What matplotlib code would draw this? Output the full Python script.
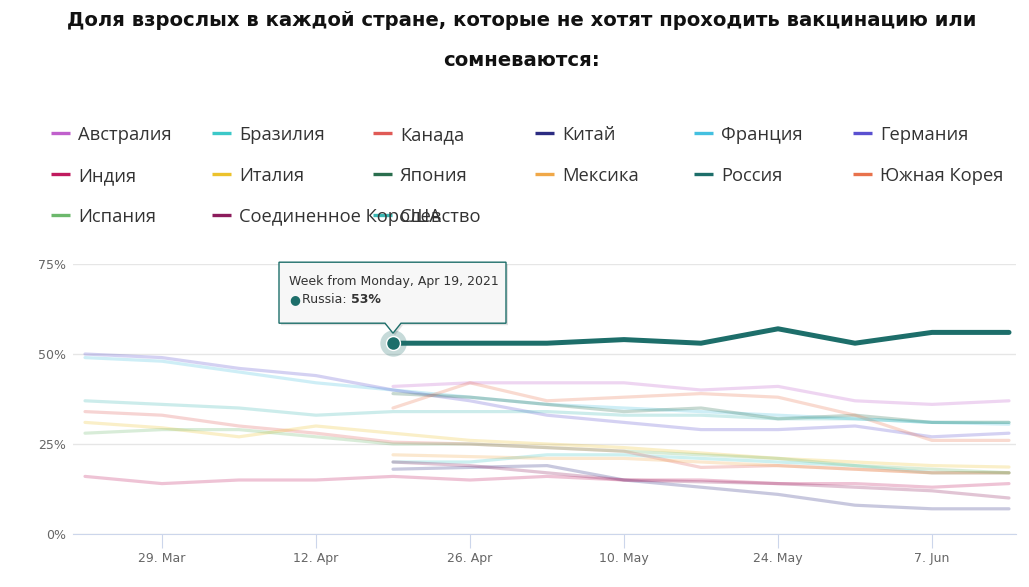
import numpy as np
import pandas as pd
import matplotlib
matplotlib.use("Agg")
import matplotlib.pyplot as plt
import matplotlib.dates as mdates
from matplotlib.patches import Polygon
from matplotlib.transforms import IdentityTransform
from matplotlib.lines import Line2D

nan = np.nan
weeks = pd.date_range("2021-03-22", periods=13, freq="7D")

countries = ["Австралия", "Бразилия", "Канада", "Китай", "Франция", "Германия",
             "Индия", "Италия", "Япония", "Мексика", "Россия", "Южная Корея",
             "Испания", "Соединенное Королевство", "США"]
colors = ["#c060cc", "#3cc8c8", "#e05a56", "#2c2c82", "#44c0e0", "#5a50d0",
          "#c01a5e", "#ecc22c", "#2a6e4e", "#f0a848", "#1d6e6a", "#e8724c",
          "#6cb86c", "#8c1c5c", "#3cb8b4"]

australia = [nan, nan, nan, nan, 41, 42, 42, 42, 40, 41, 37, 36, 37]
brazil    = [nan, nan, nan, nan, 20, 20, 22, 22, 21, 20, 19, 17, 17]
canada    = [34, 33, 30, 28, 25.5, 25, 24, 23, 18.5, 19, 18, 17, 17]
china     = [nan, nan, nan, nan, 18, 18.5, 19, 15, 13, 11, 8, 7, 7]
france    = [49, 48, 45, 42, 40, 38, 36, 35, 34, 33, 32, 31, 30.5]
germany   = [50, 49, 46, 44, 40, 37, 33, 31, 29, 29, 30, 27, 28]
india     = [16, 14, 15, 15, 16, 15, 16, 15, 15, 14, 14, 13, 14]
italy     = [31, 29.5, 27, 30, 28, 26, 25, 24, 22.5, 21, 20, 19, 18.6]
japan     = [nan, nan, nan, nan, 39, 38, 36, 34, 35, 32, 33, 31, 31]
mexico    = [nan, nan, nan, nan, 22, 21.5, 21, 21, 20, 19, 18, 17, 17]
russia    = [nan, nan, nan, nan, 53, 53, 53, 54, 53, 57, 53, 56, 56]
skorea    = [nan, nan, nan, nan, 35, 42, 37, 38, 39, 38, 33, 26, 26]
spain     = [28, 29, 29, 27, 25, 25, 24, 23, 22, 21, 19, 18, 17]
uk        = [nan, nan, nan, nan, 20, 19, 17, 15, 14.5, 14, 13, 12, 10]
usa       = [37, 36, 35, 33, 34, 34, 34, 33, 33, 32, 32, 31, 31]

series = [australia, brazil, canada, china, france, germany, india, italy,
          japan, mexico, russia, skorea, spain, uk, usa]

title = "Доля взрослых в каждой стране, которые не хотят проходить вакцинацию или\nсомневаются:"
yticks = [0, 25, 50, 75]
ytick_labels = ["0%", "25%", "50%", "75%"]
xtick_dates = pd.to_datetime(["2021-03-29", "2021-04-12", "2021-04-26",
                              "2021-05-10", "2021-05-24", "2021-06-07"])
xtick_labels = ["29. Mar", "12. Apr", "26. Apr", "10. May", "24. May", "7. Jun"]
hover_index = 4
hover_country = 10

W, H = 1029, 587
fig = plt.figure(figsize=(W / 100, H / 100), dpi=100)
ax = fig.add_axes([73 / W, 1 - 534 / H, (1016 - 73) / W, (534 - 264) / H])

for i, (name, col, vals) in enumerate(zip(countries, colors, series)):
    if i == hover_country:
        continue
    ax.plot(weeks, vals, color=col, alpha=0.26, lw=2.3, solid_capstyle="round",
            solid_joinstyle="round", zorder=2)

rus = series[hover_country]
ax.plot(weeks, rus, color=colors[hover_country], lw=3.6, solid_capstyle="round",
        solid_joinstyle="round", zorder=4)
hx, hy = weeks[hover_index], rus[hover_index]
ax.plot([hx], [hy], "o", ms=19, color=colors[hover_country], alpha=0.25,
        mec="none", zorder=5)
ax.plot([hx], [hy], "o", ms=10, color=colors[hover_country], mec="white",
        mew=1, zorder=6)

ax.set_ylim(0, 75)
x0 = mdates.date2num(weeks[0]) - 12 / 11.0
x1 = mdates.date2num(weeks[-1]) + 7 / 11.0
ax.set_xlim(x0, x1)
ax.set_yticks(yticks)
ax.set_yticklabels(ytick_labels)
ax.set_xticks(xtick_dates)
ax.set_xticklabels(xtick_labels)
ax.grid(axis="y", color="#e6e6e6", lw=1)
ax.set_axisbelow(True)
for s in ["top", "right", "left"]:
    ax.spines[s].set_visible(False)
ax.spines["bottom"].set_color("#ccd6eb")
ax.tick_params(axis="y", length=0, pad=5, labelsize=9, labelcolor="#666666")
ax.tick_params(axis="x", length=10, color="#ccd6eb", pad=3, labelsize=9,
               labelcolor="#666666")

# Tooltip
fig.canvas.draw()
px, py = ax.transData.transform((mdates.date2num(hx), hy))
box = [(px - 114, py + 20), (px - 8, py + 20), (px, py + 10), (px + 8, py + 20),
       (px + 113, py + 20), (px + 113, py + 81), (px - 114, py + 81)]
shadow = Polygon([(x + 2, y - 2) for x, y in box], closed=True,
                 transform=IdentityTransform(), facecolor="#000000", alpha=0.12,
                 edgecolor="none", zorder=9)
fig.add_artist(shadow)
tip = Polygon(box, closed=True, transform=IdentityTransform(),
              facecolor="#f7f7f7", edgecolor=colors[hover_country], lw=1,
              zorder=10)
fig.add_artist(tip)
fig.text((px - 104) / W, (py + 62) / H, "Week from Monday, Apr 19, 2021",
         fontsize=9, color="#333333", va="center", ha="left", zorder=11)
fig.text((px - 104) / W, (py + 44) / H, "●", fontsize=9,
         color=colors[hover_country], va="center", ha="left", zorder=11)
t1 = fig.text((px - 91) / W, (py + 44) / H, "Russia: ", fontsize=9,
              color="#333333", va="center", ha="left", zorder=11)
fig.canvas.draw()
bb = t1.get_window_extent()
fig.text(bb.x1 / W, (py + 44) / H, f"{hy:.0f}%", fontsize=9, fontweight="bold",
         color="#333333", va="center", ha="left", zorder=11)

# Title
fig.text(522 / W, 1 - 40 / H, title, ha="center", va="center", fontsize=14.1,
         fontweight="bold", color="#111111", linespacing=2.4,
         family="DejaVu Sans")

# Legend (manual grid, like the reference)
col_x = [51, 212, 373, 535, 694, 853]
row_y = [135, 176, 217]
for i, (name, col) in enumerate(zip(countries, colors)):
    r, c = divmod(i, 6)
    x = col_x[c]
    y = H - row_y[r]
    fig.add_artist(Line2D([x / W, (x + 19) / W], [(y + 2) / H, (y + 2) / H],
                          color=col, lw=2.4, solid_capstyle="butt"))
    fig.text((x + 27) / W, y / H, name, fontsize=13.2, color="#333333",
             va="center", ha="left", family="Open Sans")

fig.savefig("out.png", dpi=100)
